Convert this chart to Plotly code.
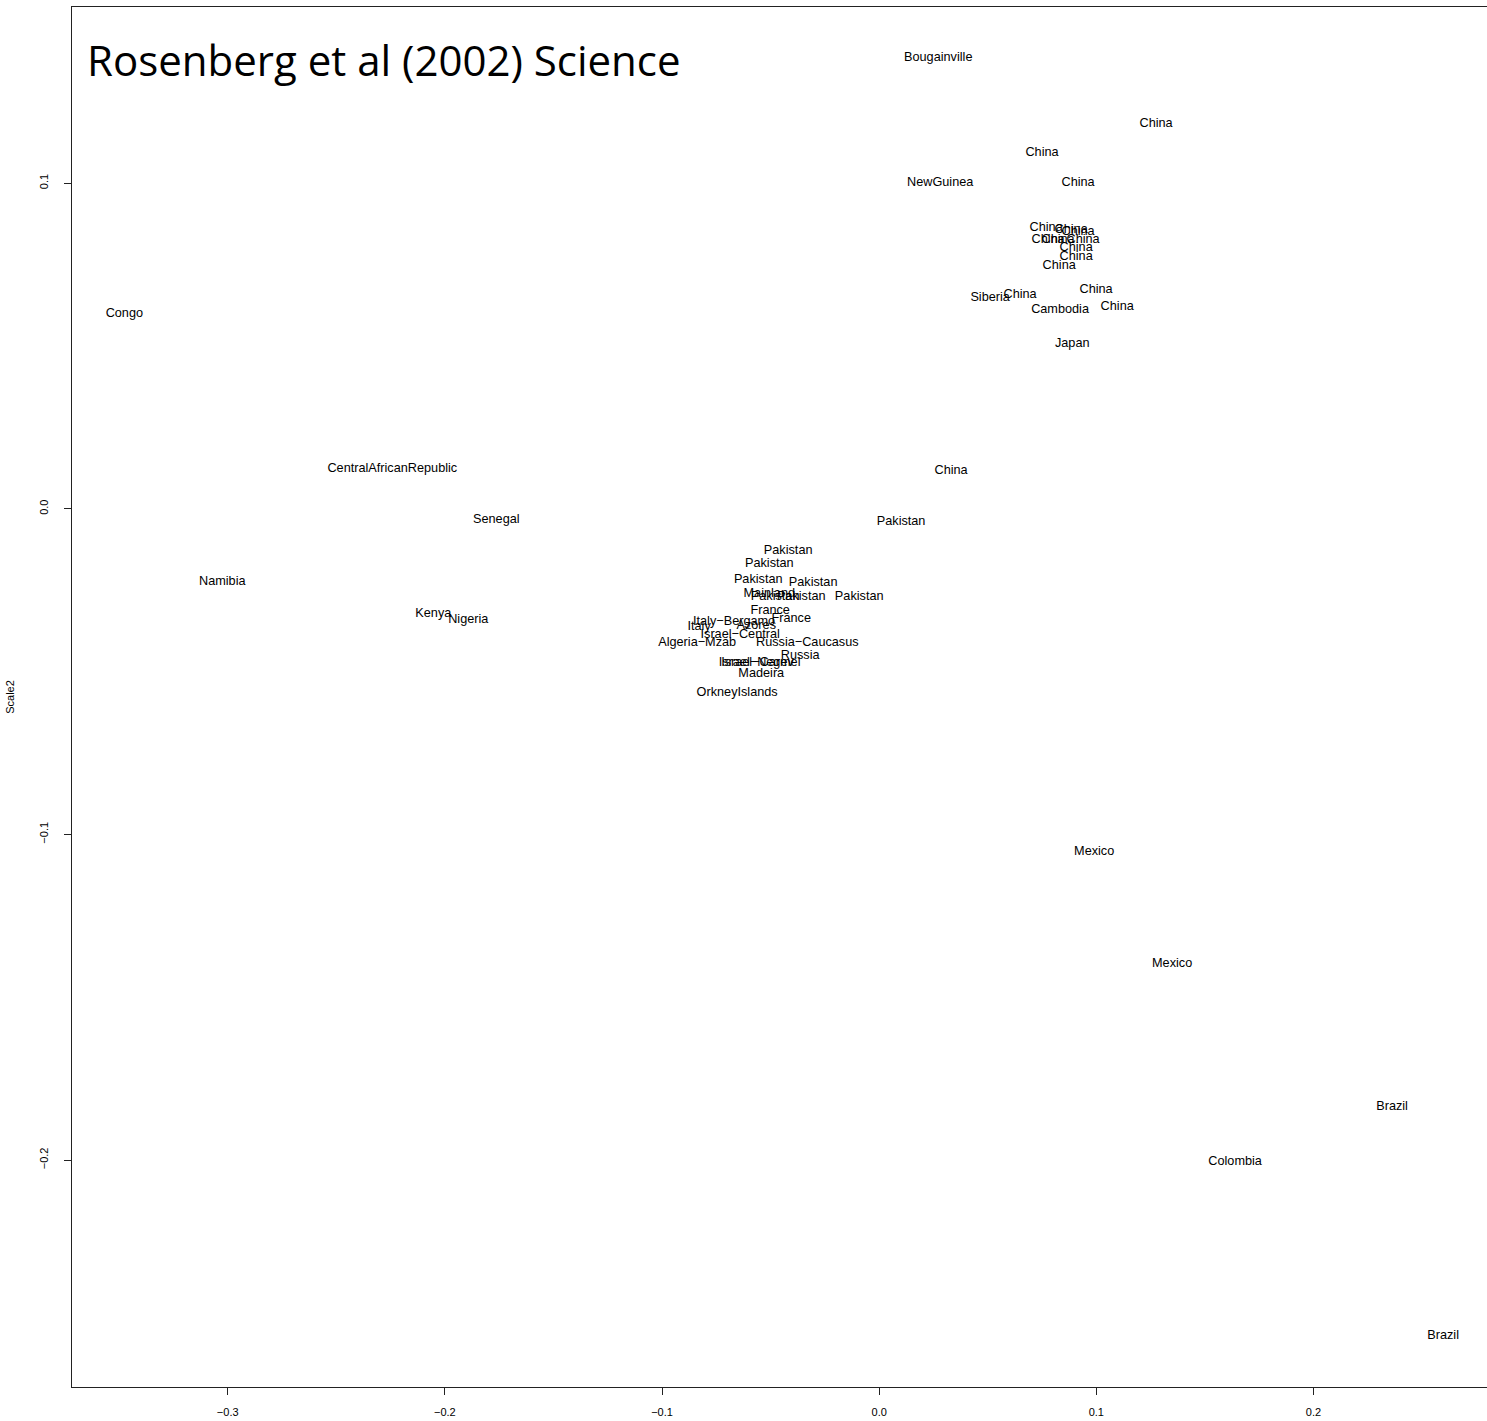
import plotly.graph_objects as go

labels = [
    "Bougainville", "China", "China", "NewGuinea", "China",
    "China", "China", "China", "China", "China", "China",
    "China", "China", "China",
    "Siberia", "China", "China", "Cambodia", "China", "Japan",
    "Congo", "CentralAfricanRepublic", "China", "Senegal", "Pakistan",
    "Namibia", "Kenya", "Nigeria",
    "Pakistan", "Pakistan", "Pakistan", "Pakistan", "Mainland",
    "Pakistan", "Pakistan", "Pakistan",
    "France", "France", "Italy\u2212Bergamo", "Italy", "Azores",
    "Israel\u2212Central", "Algeria\u2212Mzab", "Russia\u2212Caucasus", "Russia",
    "Israel\u2212Negev", "Israel\u2212Carmel", "Madeira", "OrkneyIslands",
    "Mexico", "Mexico", "Brazil", "Colombia", "Brazil",
]

scale1 = [
    0.0272, 0.1275, 0.0750, 0.0281, 0.0916,
    0.0769, 0.0884, 0.0916, 0.0778, 0.0824, 0.0939,
    0.0907, 0.0907, 0.0829,
    0.0511, 0.0649, 0.0999, 0.0833, 0.1096, 0.0889,
    -0.3476, -0.2242, 0.0331, -0.1763, 0.0101,
    -0.3025, -0.2053, -0.1892,
    -0.0419, -0.0506, -0.0557, -0.0304, -0.0506,
    -0.0479, -0.0359, -0.0092,
    -0.0502, -0.0405, -0.0668, -0.0829, -0.0566,
    -0.0640, -0.0838, -0.0331, -0.0364,
    -0.0566, -0.0545, -0.0543, -0.0654,
    0.0990, 0.1349, 0.2362, 0.1639, 0.2597,
]

scale2 = [
    0.1384, 0.1181, 0.1092, 0.1000, 0.1000,
    0.0862, 0.0856, 0.0850, 0.0825, 0.0825, 0.0825,
    0.0801, 0.0773, 0.0745,
    0.0647, 0.0656, 0.0672, 0.0610, 0.0619, 0.0506,
    0.0598, 0.0122, 0.0116, -0.0035, -0.0041,
    -0.0225, -0.0323, -0.0342,
    -0.0130, -0.0170, -0.0219, -0.0228, -0.0262,
    -0.0271, -0.0271, -0.0271,
    -0.0314, -0.0339, -0.0348, -0.0363, -0.0360,
    -0.0388, -0.0412, -0.0412, -0.0452,
    -0.0474, -0.0474, -0.0508, -0.0566,
    -0.1054, -0.1398, -0.1837, -0.2006, -0.2540,
]

x_ticks = [-0.3, -0.2, -0.1, 0.0, 0.1, 0.2]
y_ticks = [-0.2, -0.1, 0.0, 0.1]

title_text = "Rosenberg et al (2002) Science"

fig = go.Figure()
fig.add_trace(go.Scatter(
    x=scale1, y=scale2, text=labels, mode="text",
    textposition="middle center",
    textfont=dict(family="Liberation Sans, Arial, sans-serif", size=12.7, color="#000000"),
    hoverinfo="skip", showlegend=False,
))

fig.add_annotation(
    text=title_text, xref="paper", yref="paper",
    x=0.009, y=0.962, xanchor="left", yanchor="middle", showarrow=False,
    font=dict(family="Open Sans, DejaVu Sans, sans-serif", size=42, color="#000000"),
)

fig.update_layout(
    width=1487, height=1421,
    margin=dict(l=72, r=0, t=7, b=34, pad=0),
    paper_bgcolor="white", plot_bgcolor="white",
    font=dict(family="Liberation Sans, Arial, sans-serif", color="#000000"),
    xaxis=dict(
        range=[-0.3717, 0.2799], tickvals=x_ticks, tickformat=".1f",
        showgrid=False, zeroline=False, showline=True, linecolor="#222222",
        linewidth=1, mirror=True, ticks="outside", ticklen=7, tickcolor="#222222",
        tickfont=dict(size=11), ticklabelstandoff=8,
    ),
    yaxis=dict(
        range=[-0.2697, 0.1541], tickvals=y_ticks, tickformat=".1f",
        showgrid=False, zeroline=False, showline=True, linecolor="#222222",
        linewidth=1, mirror=False, ticks="outside", ticklen=7, tickcolor="#222222",
        tickfont=dict(size=11), tickangle=-90, ticklabelstandoff=12,
        title=dict(text="Scale2", font=dict(size=11), standoff=20),
    ),
)

fig.write_html(
    "out.html",
    config={"displayModeBar": False},
    post_script="document.body.style.margin='0';document.body.style.overflow='hidden';",
)
